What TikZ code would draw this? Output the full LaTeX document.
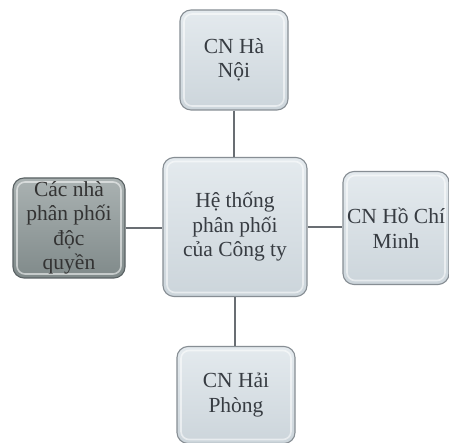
\documentclass[tikz,border=0pt]{standalone}
\usepackage{fontspec}
\setmainfont{Liberation Serif}
\usetikzlibrary{shadings}
\definecolor{boxlight}{RGB}{228,234,238}
\definecolor{boxmid}{RGB}{204,213,219}
\definecolor{boxedge}{RGB}{135,142,148}
\definecolor{darklight}{RGB}{170,178,178}
\definecolor{darkmid}{RGB}{128,138,138}
\definecolor{darkedge}{RGB}{90,98,100}
\definecolor{txt}{RGB}{55,60,66}
\definecolor{linkc}{RGB}{105,110,115}
\tikzset{
  box/.style={rectangle, rounded corners=11pt, draw=boxedge, line width=1.1pt,
    top color=boxlight, bottom color=boxmid, align=center, text=txt,
    font=\fontsize{21.5}{24.5}\selectfont, inner sep=1pt,
    path picture={\draw[white, opacity=.55, line width=1.6pt, rounded corners=8pt]
      ([shift={(4pt,-4pt)}]path picture bounding box.north west) rectangle
      ([shift={(-4pt,4pt)}]path picture bounding box.south east);}},
  darkbox/.style={box, draw=darkedge, top color=darklight, bottom color=darkmid, text=black!80},
  link/.style={draw=linkc, line width=1.5pt}
}
\begin{document}
\begin{tikzpicture}[x=1pt,y=1pt]
\useasboundingbox[fill=white] (0,0) rectangle (449,443);
\node[box, minimum width=108pt, minimum height=100pt] (hn) at (234,383) {CN Hà\\Nội};
\node[box, minimum width=144pt, minimum height=139pt] (ht) at (235,216) {Hệ thống\\phân phối\\của Công ty};
\node[darkbox, minimum width=112pt, minimum height=100pt] (npp) at (69,215) {Các nhà\\phân phối\\độc\\quyền};
\node[box, minimum width=106pt, minimum height=113pt] (hcm) at (396,215) {CN Hồ Chí\\Minh};
\node[box, minimum width=118pt, minimum height=97pt] (hp) at (236,48) {CN Hải\\Phòng};
\draw[link] (hn.south) -- (hn.south |- ht.north);
\draw[link] (ht.south) -- (ht.south |- hp.north);
\draw[link] (npp.east) -- (npp.east -| ht.west);
\draw[link] (ht.east) -- (ht.east -| hcm.west);
\end{tikzpicture}
\end{document}
